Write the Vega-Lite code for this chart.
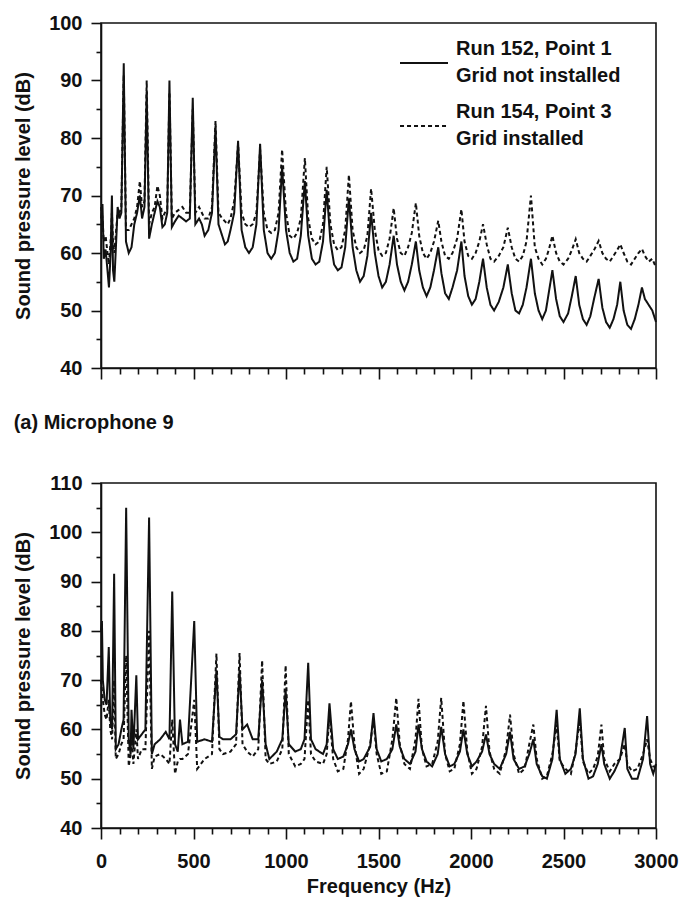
{
  "$schema": "https://vega.github.io/schema/vega-lite/v6.json",
  "padding": {"left": 12, "top": 12, "right": 0, "bottom": 4},
  "background": "white",
  "config": {
    "font": "Liberation Sans",
    "view": {"stroke": "#111", "strokeWidth": 1.6},
    "axis": {"labelFont": "Liberation Sans", "labelFontSize": 20, "labelFontWeight": "bold", "labelColor": "#111", "labelFlush": false, "titleFont": "Liberation Sans", "titleFontSize": 20, "titleFontWeight": "bold", "titleColor": "#111", "domainColor": "#111", "domainWidth": 1.6, "tickColor": "#111", "tickWidth": 1.6, "grid": false},
    "legend": {"orient": "none", "legendX": 298, "legendY": 15, "title": null, "symbolType": "stroke", "symbolSize": 2300, "symbolStrokeWidth": 1.8, "symbolStrokeColor": "#111", "labelFont": "Liberation Sans", "labelFontSize": 20, "labelFontWeight": "bold", "labelColor": "#111", "labelOffset": 7, "labelBaseline": "line-bottom", "rowPadding": 15, "labelLimit": 400, "padding": 0},
    "style": {"guide-label": {"lineHeight": 27}}
  },
  "datasets": {
    "top": [
      {"f":0,"s":66,"d":68},{"f":8,"s":68.5,"d":66},{"f":15,"s":59,"d":62},{"f":25,"s":60.6,"d":63},{"f":35,"s":57,"d":60},{"f":43,"s":54,"d":58},{"f":52,"s":60,"d":62},{"f":59,"s":70,"d":67},{"f":65,"s":57,"d":62},{"f":72,"s":55,"d":60},{"f":82,"s":62,"d":64},{"f":90,"s":68,"d":67},{"f":100,"s":66,"d":67},{"f":110,"s":67,"d":68},
      {"f":123,"s":93,"d":91},{"f":135,"s":62,"d":64},{"f":150,"s":60,"d":64},{"f":165,"s":61,"d":65},{"f":180,"s":65,"d":66},{"f":195,"s":67,"d":68},{"f":210,"s":70,"d":72.5},{"f":222,"s":66,"d":68},{"f":235,"s":68,"d":69},
      {"f":247,"s":88,"d":90},{"f":260,"s":62.5,"d":65},{"f":275,"s":65,"d":67},{"f":290,"s":67,"d":68},{"f":305,"s":69,"d":71.7},{"f":318,"s":68,"d":70},{"f":332,"s":64.5,"d":66},{"f":345,"s":65,"d":67},{"f":358,"s":67,"d":67.5},
      {"f":370,"s":90,"d":88},{"f":383,"s":64.5,"d":66},{"f":400,"s":65.5,"d":67},{"f":420,"s":66.5,"d":67.5},{"f":440,"s":66,"d":68},{"f":460,"s":65.5,"d":67},{"f":480,"s":66,"d":67},
      {"f":496,"s":87,"d":85},{"f":510,"s":65,"d":67},{"f":530,"s":66,"d":68},{"f":545,"s":65,"d":67},{"f":560,"s":63,"d":66},{"f":580,"s":64,"d":66},{"f":600,"s":67,"d":68},
      {"f":619,"s":82,"d":83},{"f":635,"s":65,"d":67},{"f":655,"s":63,"d":66},{"f":670,"s":61.5,"d":65.5},{"f":685,"s":62,"d":65},{"f":700,"s":64,"d":66},{"f":720,"s":67,"d":69},
      {"f":741,"s":79.5,"d":79},{"f":760,"s":64,"d":67},{"f":780,"s":61,"d":65},{"f":800,"s":60,"d":64.5},{"f":820,"s":61,"d":65},{"f":840,"s":65,"d":67},
      {"f":860,"s":79,"d":78},{"f":880,"s":64,"d":67},{"f":900,"s":60,"d":64},{"f":920,"s":59,"d":63.5},{"f":940,"s":60,"d":64},{"f":960,"s":64,"d":67},
      {"f":979,"s":75,"d":78},{"f":1000,"s":64,"d":67},{"f":1020,"s":60,"d":63},{"f":1040,"s":58.5,"d":62.5},{"f":1060,"s":59,"d":63.5},{"f":1080,"s":63,"d":66},
      {"f":1102,"s":72.5,"d":76.5},{"f":1120,"s":63,"d":66},{"f":1140,"s":59,"d":62.5},{"f":1160,"s":58,"d":61.5},{"f":1180,"s":58.5,"d":62},{"f":1200,"s":62,"d":65},
      {"f":1220,"s":71,"d":75},{"f":1240,"s":62,"d":65},{"f":1260,"s":58,"d":61.5},{"f":1280,"s":57,"d":60.5},{"f":1300,"s":57.5,"d":61},{"f":1320,"s":61,"d":64},
      {"f":1340,"s":69.5,"d":73.6},{"f":1360,"s":61,"d":64},{"f":1380,"s":57,"d":61},{"f":1400,"s":55,"d":60},{"f":1420,"s":56,"d":60.5},{"f":1440,"s":59.5,"d":63},
      {"f":1460,"s":67,"d":71.2},{"f":1480,"s":60,"d":64},{"f":1500,"s":56,"d":60.5},{"f":1520,"s":54,"d":59.5},{"f":1540,"s":55,"d":60},{"f":1560,"s":58,"d":62.5},
      {"f":1582,"s":63,"d":67.8},{"f":1600,"s":58,"d":62.5},{"f":1620,"s":55,"d":60},{"f":1640,"s":53.5,"d":59.5},{"f":1660,"s":55,"d":61},{"f":1680,"s":58,"d":63.5},
      {"f":1702,"s":62,"d":68.7},{"f":1720,"s":57,"d":63},{"f":1740,"s":54,"d":60},{"f":1760,"s":52.5,"d":59},{"f":1780,"s":54,"d":60},{"f":1800,"s":57,"d":62},
      {"f":1823,"s":61,"d":65.6},{"f":1840,"s":56.5,"d":62},{"f":1860,"s":53,"d":59.5},{"f":1880,"s":52,"d":59},{"f":1900,"s":54,"d":60},{"f":1925,"s":57,"d":62.5},
      {"f":1948,"s":62,"d":67.6},{"f":1965,"s":56,"d":62},{"f":1985,"s":52.5,"d":59.5},{"f":2005,"s":51,"d":59},{"f":2025,"s":52,"d":60},{"f":2045,"s":55,"d":62},
      {"f":2065,"s":59,"d":65},{"f":2085,"s":54,"d":61.5},{"f":2105,"s":51,"d":59},{"f":2125,"s":50,"d":58.5},{"f":2150,"s":51.5,"d":59.5},{"f":2175,"s":54,"d":61},
      {"f":2199,"s":58,"d":64.4},{"f":2220,"s":53,"d":61},{"f":2240,"s":50,"d":59},{"f":2260,"s":49.5,"d":58.5},{"f":2280,"s":51,"d":59.5},{"f":2300,"s":54,"d":62},
      {"f":2324,"s":59,"d":70},{"f":2345,"s":53,"d":61},{"f":2365,"s":50,"d":59},{"f":2385,"s":48.5,"d":58},{"f":2405,"s":50,"d":59},{"f":2420,"s":53,"d":60.5},
      {"f":2440,"s":57,"d":63},{"f":2460,"s":52,"d":60},{"f":2480,"s":49,"d":58.5},{"f":2500,"s":48,"d":58},{"f":2525,"s":49.5,"d":59},{"f":2545,"s":52.5,"d":60.5},
      {"f":2566,"s":56,"d":62.4},{"f":2585,"s":51,"d":60},{"f":2605,"s":48.5,"d":59},{"f":2625,"s":47.5,"d":58.5},{"f":2645,"s":49,"d":59.5},{"f":2665,"s":52,"d":60.5},
      {"f":2690,"s":55.5,"d":62.1},{"f":2710,"s":50.5,"d":60},{"f":2730,"s":48,"d":59},{"f":2750,"s":47,"d":58.5},{"f":2770,"s":48.5,"d":59.5},{"f":2790,"s":51,"d":60.5},
      {"f":2807,"s":55,"d":61.5},{"f":2825,"s":50,"d":60},{"f":2845,"s":47.5,"d":58.5},{"f":2865,"s":46.8,"d":58},{"f":2885,"s":48.5,"d":59},{"f":2905,"s":51,"d":60},
      {"f":2924,"s":54,"d":60.7},{"f":2940,"s":52,"d":59.5},{"f":2960,"s":51,"d":58.5},{"f":2980,"s":50,"d":59},{"f":3000,"s":48,"d":57.5}
    ],
    "bottom": [
      {"f":0,"s":80,"d":70},{"f":5,"s":82,"d":68},{"f":10,"s":70,"d":66},{"f":20,"s":66,"d":63},{"f":30,"s":65,"d":62},{"f":42,"s":76.7,"d":66},{"f":50,"s":62,"d":60},{"f":60,"s":60,"d":58},
      {"f":71,"s":91.6,"d":70},{"f":80,"s":56,"d":54},{"f":95,"s":57,"d":55},{"f":110,"s":60,"d":57},{"f":122,"s":62,"d":58},
      {"f":136,"s":105,"d":75},{"f":150,"s":58,"d":52.5},{"f":160,"s":55,"d":55},{"f":165,"s":64,"d":58},{"f":175,"s":56,"d":53},
      {"f":191,"s":71,"d":60},{"f":200,"s":58,"d":54},{"f":220,"s":59,"d":56},{"f":240,"s":60,"d":56},
      {"f":260,"s":103,"d":80},{"f":275,"s":55,"d":52},{"f":290,"s":57,"d":54.5},{"f":320,"s":58,"d":55},{"f":350,"s":59.5,"d":54},{"f":370,"s":58,"d":53},
      {"f":385,"s":88,"d":62},{"f":400,"s":57,"d":51},{"f":415,"s":55.5,"d":53.5},{"f":427,"s":62,"d":54},{"f":440,"s":57,"d":54},{"f":470,"s":57.5,"d":55},
      {"f":504,"s":82,"d":66},{"f":520,"s":57.5,"d":52},{"f":560,"s":58,"d":54},{"f":600,"s":57.5,"d":55},
      {"f":624,"s":72,"d":75.4},{"f":640,"s":58.5,"d":56},{"f":660,"s":58,"d":55},{"f":700,"s":58,"d":55.5},{"f":730,"s":59,"d":57},
      {"f":749,"s":72,"d":75.5},{"f":765,"s":60,"d":57},{"f":790,"s":61,"d":55.5},{"f":820,"s":58,"d":54.5},{"f":850,"s":58,"d":56},
      {"f":871,"s":70,"d":74},{"f":890,"s":57,"d":54},{"f":910,"s":54,"d":53},{"f":950,"s":55.5,"d":53.5},{"f":980,"s":58,"d":56},
      {"f":998,"s":68,"d":73},{"f":1015,"s":57,"d":55},{"f":1050,"s":55.5,"d":52.5},{"f":1080,"s":56,"d":53},{"f":1100,"s":58,"d":54},
      {"f":1120,"s":73.5,"d":66},{"f":1135,"s":58,"d":55},{"f":1160,"s":56,"d":53.5},{"f":1200,"s":55,"d":53},{"f":1220,"s":57,"d":55},
      {"f":1235,"s":65.3,"d":63},{"f":1255,"s":56,"d":54},{"f":1280,"s":54,"d":51.5},{"f":1310,"s":54.5,"d":52},{"f":1335,"s":57,"d":58},
      {"f":1351,"s":60,"d":65.7},{"f":1370,"s":56,"d":57},{"f":1395,"s":53.5,"d":51},{"f":1420,"s":54,"d":52},{"f":1455,"s":56.5,"d":57},
      {"f":1473,"s":63.3,"d":62},{"f":1490,"s":56,"d":55},{"f":1515,"s":53.5,"d":51},{"f":1545,"s":54,"d":51.5},{"f":1575,"s":56,"d":58},
      {"f":1596,"s":61,"d":66.4},{"f":1615,"s":56.5,"d":57},{"f":1640,"s":54,"d":53},{"f":1670,"s":53,"d":52},{"f":1700,"s":55.5,"d":58},
      {"f":1716,"s":61,"d":66.2},{"f":1735,"s":56,"d":56},{"f":1760,"s":53.5,"d":52.5},{"f":1790,"s":52.5,"d":53},{"f":1820,"s":55,"d":57.5},
      {"f":1839,"s":60.5,"d":66.4},{"f":1860,"s":55,"d":55},{"f":1885,"s":52.5,"d":51.5},{"f":1910,"s":53,"d":52},{"f":1940,"s":55.5,"d":57},
      {"f":1959,"s":60,"d":65.8},{"f":1980,"s":55,"d":55.5},{"f":2005,"s":52.5,"d":51},{"f":2030,"s":53.5,"d":52},{"f":2060,"s":55.5,"d":56.5},
      {"f":2081,"s":59,"d":64.8},{"f":2100,"s":55,"d":55.5},{"f":2125,"s":53,"d":52},{"f":2155,"s":52,"d":51},{"f":2190,"s":55,"d":56},
      {"f":2211,"s":59.5,"d":63},{"f":2230,"s":54,"d":55},{"f":2260,"s":52,"d":51},{"f":2290,"s":52.5,"d":52},{"f":2315,"s":55,"d":57},
      {"f":2337,"s":58,"d":61},{"f":2355,"s":53,"d":54},{"f":2385,"s":50.5,"d":50},{"f":2410,"s":50,"d":50.5},{"f":2440,"s":54,"d":55},
      {"f":2463,"s":64,"d":61},{"f":2480,"s":54,"d":53.5},{"f":2510,"s":51,"d":52},{"f":2540,"s":52,"d":51},{"f":2565,"s":55,"d":55.5},
      {"f":2588,"s":64.3,"d":62},{"f":2605,"s":54,"d":53.5},{"f":2635,"s":50,"d":51},{"f":2660,"s":50.5,"d":52},{"f":2685,"s":53,"d":54.5},
      {"f":2705,"s":57,"d":61},{"f":2720,"s":53,"d":54},{"f":2750,"s":50,"d":51.5},{"f":2775,"s":51.5,"d":53},{"f":2805,"s":54,"d":54},
      {"f":2831,"s":60.3,"d":57},{"f":2845,"s":52,"d":53},{"f":2870,"s":50,"d":51.5},{"f":2900,"s":50,"d":52},{"f":2930,"s":54,"d":55},
      {"f":2952,"s":62.7,"d":58},{"f":2968,"s":53,"d":54},{"f":2985,"s":51,"d":52.5},{"f":3000,"s":53,"d":52.5}
    ]
  },
  "spacing": 38,
  "resolve": {"scale": {"strokeDash": "independent"}, "legend": {"strokeDash": "independent"}},
  "vconcat": [
    {
      "data": {"name": "top"},
      "transform": [{"fold": ["s", "d"], "as": ["run", "spl"]}],
      "width": 555,
      "height": 345,
      "title": {"text": "(a) Microphone 9", "orient": "bottom", "anchor": "start", "frame": "bounds", "offset": 33, "font": "Liberation Sans", "fontSize": 20, "fontWeight": "bold", "color": "#111"},
      "layer": [
        {
          "mark": {"type": "line", "color": "#111", "strokeWidth": 2},
          "encoding": {
            "x": {"field": "f", "type": "quantitative", "scale": {"domain": [0, 3000], "nice": false}, "axis": {"values": [0, 500, 1000, 1500, 2000, 2500, 3000], "labels": false, "title": null, "tickSize": 11}},
            "y": {"field": "spl", "type": "quantitative", "scale": {"domain": [40, 100], "nice": false, "zero": false}, "axis": {"values": [40, 50, 60, 70, 80, 90, 100], "tickSize": 10, "labelPadding": 9, "title": "Sound pressure level (dB)", "titlePadding": 15}},
            "strokeDash": {"field": "run", "type": "nominal", "scale": {"domain": ["s", "d"], "range": [[1, 0], [4, 3]]}, "legend": {"labelExpr": "datum.value == 's' ? ['Run 152, Point 1', 'Grid not installed'] : ['Run 154, Point 3', 'Grid installed']"}}
          }
        },
        {
          "mark": {"type": "point", "opacity": 0},
          "encoding": {
            "x": {"field": "f", "type": "quantitative", "axis": {"orient": "bottom", "values": [100, 200, 300, 400, 600, 700, 800, 900, 1100, 1200, 1300, 1400, 1600, 1700, 1800, 1900, 2100, 2200, 2300, 2400, 2600, 2700, 2800, 2900], "labels": false, "domain": false, "title": null, "tickSize": 6}},
            "y": {"field": "spl", "type": "quantitative", "axis": {"orient": "left", "values": [45, 55, 65, 75, 85, 95], "labels": false, "domain": false, "title": null, "tickSize": 5}}
          }
        }
      ],
      "resolve": {"axis": {"x": "independent", "y": "independent"}}
    },
    {
      "data": {"name": "bottom"},
      "transform": [{"fold": ["s", "d"], "as": ["run", "spl"]}],
      "width": 555,
      "height": 345,
      "layer": [
        {
          "mark": {"type": "line", "color": "#111", "strokeWidth": 2},
          "encoding": {
            "x": {"field": "f", "type": "quantitative", "scale": {"domain": [0, 3000], "nice": false}, "axis": {"values": [0, 500, 1000, 1500, 2000, 2500, 3000], "format": "d", "tickSize": 11, "labelPadding": 12, "title": "Frequency (Hz)", "titlePadding": 5}},
            "y": {"field": "spl", "type": "quantitative", "scale": {"domain": [40, 110], "nice": false, "zero": false}, "axis": {"values": [40, 50, 60, 70, 80, 90, 100, 110], "tickSize": 10, "labelPadding": 9, "title": "Sound pressure level (dB)", "titlePadding": 15}},
            "strokeDash": {"field": "run", "type": "nominal", "scale": {"domain": ["s", "d"], "range": [[1, 0], [4, 3]]}, "legend": null}
          }
        },
        {
          "mark": {"type": "point", "opacity": 0},
          "encoding": {
            "x": {"field": "f", "type": "quantitative", "axis": {"orient": "bottom", "values": [100, 200, 300, 400, 600, 700, 800, 900, 1100, 1200, 1300, 1400, 1600, 1700, 1800, 1900, 2100, 2200, 2300, 2400, 2600, 2700, 2800, 2900], "labels": false, "domain": false, "title": null, "tickSize": 6}},
            "y": {"field": "spl", "type": "quantitative", "axis": {"orient": "left", "values": [45, 55, 65, 75, 85, 95, 105], "labels": false, "domain": false, "title": null, "tickSize": 5}}
          }
        }
      ],
      "resolve": {"axis": {"x": "independent", "y": "independent"}}
    }
  ]
}
